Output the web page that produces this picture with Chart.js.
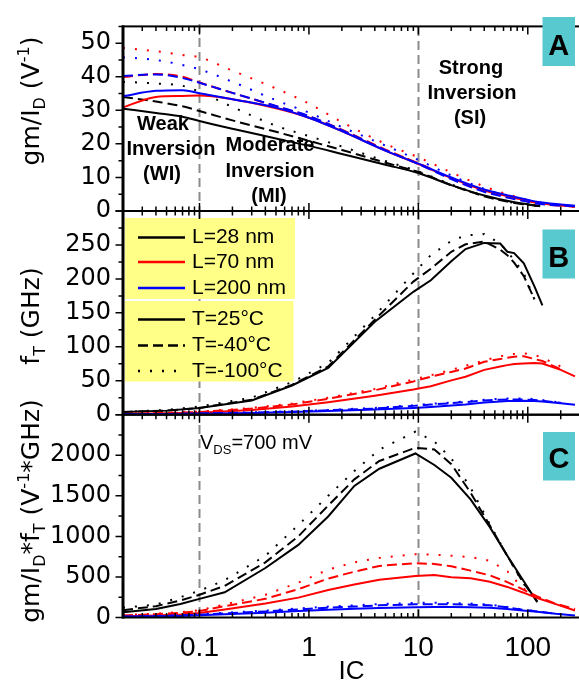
<!DOCTYPE html>
<html lang="en">
<head>
<meta charset="UTF-8">
<title>gm/ID, fT and gm/ID*fT versus IC</title>
<script src="https://cdn.jsdelivr.net/npm/chart.js"></script>
<style>
    body { margin: 0; background: #fff; }
    .figure { position: relative; width: 579px; height: 685px; overflow: hidden; background: #fff; }
    .figure canvas { position: absolute; left: 0; top: 0; }
</style>
</head>
<body>
<div class="figure">
    <canvas id="chartA" width="580" height="685"></canvas>
    <canvas id="chartB" width="580" height="685"></canvas>
    <canvas id="chartC" width="580" height="685"></canvas>
</div>
<script>
// ---- data (IC grid per panel, one array per curve) ----
const xTicks = [0.1, 1, 10, 100];
const xTickLabels = ['0.1', '1', '10', '100'];

// panel A: gm/ID (1/V)
const icA = [0.02, 0.04, 0.07, 0.1, 0.2, 0.5, 1, 2, 5, 10, 20, 40, 70, 130, 270];
const gmA_28_25   = [30.5, 29.2, 28.1, 26.8, 24.5, 21.6, 19.4, 17.0, 13.8, 11.3, 7.7, 4.6, 2.8, 1.4, null];
const gmA_28_m40  = [34.0, 32.6, 31.2, 29.8, 27.0, 23.6, 20.9, 18.2, 14.4, 11.6, 7.7, 4.4, 2.6, 1.4, null];
const gmA_28_m100 = [38.5, 38.0, 37.3, 35.5, 31.0, 25.4, 22.3, 19.2, 14.9, 11.8, 7.9, 4.5, 2.6, 1.4, null];
const gmA_70_25   = [30.9, 34.0, 34.3, 34.4, 33.3, 30.6, 27.8, 23.8, 18.0, 14.0, 9.8, 6.1, 4.2, 2.3, 1.3];
const gmA_70_m40  = [39.9, 40.8, 40.0, 38.3, 35.2, 31.2, 28.2, 24.2, 18.3, 14.2, 9.7, 5.9, 4.0, 2.2, 1.3];
const gmA_70_m100 = [48.6, 47.6, 46.5, 45.8, 41.8, 36.5, 32.0, 26.5, 20.0, 16.0, 11.5, 7.3, 4.7, 2.5, 1.3];
const gmA_200_25   = [34.2, 35.8, 36.0, 35.1, 33.3, 30.8, 27.8, 23.8, 18.0, 14.1, 10.0, 6.4, 4.5, 2.6, 1.6];
const gmA_200_m40  = [40.2, 40.7, 39.6, 38.2, 35.2, 31.3, 28.3, 24.1, 18.1, 14.0, 9.5, 5.7, 3.8, 2.1, 1.4];
const gmA_200_m100 = [45.8, 45.0, 43.5, 42.2, 38.5, 33.0, 29.3, 25.0, 19.5, 15.2, 10.6, 6.6, 4.4, 2.5, 1.5];

// panel B: fT (GHz)
const icB = [0.02, 0.05, 0.1, 0.3, 0.7, 1.5, 4, 9, 13, 20, 27, 40, 56, 65, 75, 92, 115, 136, 200, 270];
const ftB_28_25   = [4, 6, 10, 21, 43, 69, 137, 181, 198, 226, 244, 253, 252, 240, 238, 223, 189, 161, null, null];
const ftB_28_m40  = [4, 6, 10, 22, 44, 71, 140, 196, 215, 240, 251, 255, 243, 235, 224, 204, 170, null, null, null];
const ftB_28_m100 = [4, 7, 12, 25, 48, 76, 146, 208, 235, 256, 264, 266, 252, 240, 228, 208, 170, null, null, null];
const ftB_70_25   = [1, 2, 3, 7, 12, 18.5, 28, 37, 42, 50.5, 56, 66, 71, 73, 74.6, 75.5, 76, 75.5, 66, 56.5];
const ftB_70_m40  = [1, 2.5, 4, 9, 15, 23.5, 36, 49, 56, 63, 68, 78, 82, 84, 85.5, 86, 82, 79, 67, null];
const ftB_70_m100 = [1.5, 3, 4.5, 10, 16.5, 25, 38, 52, 58, 66, 72, 80, 86, 88, 89.5, 90.5, 88, 84, 71, null];
const ftB_200_25   = [0.5, 1, 1.5, 2.5, 4, 5.5, 7.5, 10, 11.5, 13.5, 15, 18, 19.5, 20, 20.3, 20.6, 20.3, 19.5, 17, 14.7];
const ftB_200_m40  = [0.5, 1, 2, 3, 4.5, 6.5, 9, 13, 15, 17, 18.5, 21, 22, 22.3, 22.5, 22.3, 21.5, 20.5, 17.5, null];
const ftB_200_m100 = [0.5, 1, 2, 3.5, 5, 7, 10, 14, 16, 18, 19.5, 22, 23.5, 24, 24, 24, 23, 21.5, 18, null];

// panel C: gm/ID * fT (GHz/V)
const icC = [0.02, 0.04, 0.067, 0.1, 0.17, 0.4, 0.8, 1.5, 2.6, 4.4, 9.4, 14, 20, 30, 45, 65, 90, 122, 180, 270];
const fomC_28_25   = [65, 106, 167, 230, 311, 610, 895, 1245, 1622, 1834, 2022, 1880, 1723, 1456, 1114, 762, 465, 188, null, null];
const fomC_28_m40  = [90, 140, 210, 280, 390, 680, 1000, 1380, 1703, 1930, 2092, 2071, 1890, 1539, 1133, 760, 438, 200, null, null];
const fomC_28_m100 = [120, 160, 250, 330, 460, 760, 1140, 1500, 1805, 2070, 2290, 2170, 1960, 1600, 1150, 760, 430, 190, null, null];
const fomC_70_25   = [16, 24, 36, 56, 98, 173, 245, 339, 406, 465, 511, 524, 497, 483, 440, 377, 309, 240, 165, 86];
const fomC_70_m40  = [25, 40, 58, 80, 140, 230, 350, 480, 565, 636, 670, 660, 632, 578, 519, 437, 347, 260, 170, 105];
const fomC_70_m100 = [30, 48, 66, 90, 160, 280, 430, 590, 680, 735, 780, 775, 762, 745, 700, 570, 365, 240, null, null];
const fomC_200_25   = [10, 14, 20, 28, 40, 60, 80, 95, 108, 117, 127, 128, 128, 127, 120, 105, 85, 70, 45, 25];
const fomC_200_m40  = [12, 18, 25, 35, 50, 75, 100, 120, 135, 150, 163, 165, 163, 158, 150, 125, 95, 75, 45, null];
const fomC_200_m100 = [14, 20, 28, 40, 58, 85, 112, 135, 150, 165, 180, 182, 178, 172, 160, 130, 98, 75, null, null];

const legendL = ['L=28 nm', 'L=70 nm', 'L=200 nm'];
const legendT = ['T=25°C', 'T=-40°C', 'T=-100°C'];

// ---- styling ----
const BLACK = '#000000', RED = '#ff0000', BLUE = '#0000ff';
const DASHES = [[], [10, 5], [2, 10]];
const tickFont = '"DejaVu Sans", sans-serif';
const textFont = '"Liberation Sans", Arial, sans-serif';

function curve(ic, vals, color, dash, order, smooth) {
    return {
        data: ic.map((x, i) => ({ x: x, y: vals[i] })),
        borderColor: color,
        borderDash: dash,
        borderWidth: 2,
        pointRadius: 0,
        fill: false,
        order: order,
        cubicInterpolationMode: smooth ? 'monotone' : 'default',
        tension: 0
    };
}

function panelSets(ic, rows, smooth) {
    // rows: [black x3, red x3, blue x3]
    const colors = [BLACK, RED, BLUE];
    const out = [];
    rows.forEach((r, k) => {
        const c = Math.floor(k / 3), t = k % 3;
        out.push(curve(ic, r, colors[c], DASHES[t], 3 - c, smooth));
    });
    return out;
}

// text with sub/superscripts; parts = [text, 0 normal | 1 sub | 2 sup]
function richText(ctx, parts, x, y, size, family, center) {
    const small = Math.round(size * 0.65);
    let w = 0;
    parts.forEach(p => {
        ctx.font = (p[1] ? small : size) + 'px ' + family;
        w += ctx.measureText(p[0]).width;
    });
    let cx = center ? x - w / 2 : x;
    parts.forEach(p => {
        ctx.font = (p[1] ? small : size) + 'px ' + family;
        const dy = p[1] === 1 ? size * 0.25 : (p[1] === 2 ? -size * 0.42 : 0);
        ctx.fillText(p[0], cx, y + dy);
        cx += ctx.measureText(p[0]).width;
    });
}

function letterBox(ctx, ch, x, y, w, h, base) {
    ctx.fillStyle = '#57c9cf';
    ctx.fillRect(x, y, w, h);
    ctx.fillStyle = '#000';
    ctx.font = 'bold 29px ' + textFont;
    ctx.textAlign = 'center';
    ctx.fillText(ch, x + w / 2, base);
    ctx.textAlign = 'left';
}

function yTitle(ctx, parts, cy) {
    ctx.save();
    ctx.translate(39, cy);
    ctx.rotate(-Math.PI / 2);
    ctx.fillStyle = '#000';
    ctx.textBaseline = 'alphabetic';
    richText(ctx, parts, 0, 0, 25, tickFont, true);
    ctx.restore();
}

// frame, inward x ticks, outward y ticks, grey region markers
const frame = {
    id: 'frame',
    beforeDatasetsDraw(chart, args, opts) {
        const ctx = chart.ctx, x = chart.scales.x, a = chart.chartArea;
        ctx.save();
        ctx.strokeStyle = '#8c8c8c';
        ctx.lineWidth = 2;
        ctx.setLineDash([9, 5]);
        [0.1, 10].forEach((v, i) => {
            const px = Math.round(x.getPixelForValue(v)) + 0.5;
            ctx.beginPath();
            ctx.moveTo(px, opts.guideTop[i]);
            ctx.lineTo(px, a.bottom);
            ctx.stroke();
        });
        ctx.restore();
    },
    afterDraw(chart, args, opts) {
        const ctx = chart.ctx, x = chart.scales.x, y = chart.scales.y, a = chart.chartArea;
        ctx.save();
        ctx.strokeStyle = '#000';
        ctx.lineWidth = 1.5;
        ctx.beginPath();
        for (let e = -2; e <= 2; e++) {
            for (let m = 1; m <= 9; m++) {
                const v = m * Math.pow(10, e);
                if (v < 0.02 || v > 300) continue;
                const px = x.getPixelForValue(v), len = m === 1 ? 8 : 4.5;
                ctx.moveTo(px, a.bottom); ctx.lineTo(px, a.bottom - len);
                ctx.moveTo(px, a.top); ctx.lineTo(px, a.top + len);
            }
        }
        for (let v = 0; v <= y.max + 1e-9; v += opts.minor) {
            const py = y.getPixelForValue(v);
            const len = Math.abs(v / opts.major - Math.round(v / opts.major)) < 1e-6 ? 7.5 : 4.5;
            ctx.moveTo(a.left, py); ctx.lineTo(a.left - len, py);
        }
        ctx.stroke();
        ctx.lineWidth = 2;
        ctx.strokeRect(a.left, a.top, a.right - a.left, a.bottom - a.top);
        ctx.lineWidth = 3;
        ctx.beginPath();
        ctx.moveTo(a.left, a.top - 1); ctx.lineTo(a.left, a.bottom + 1);
        ctx.stroke();
        ctx.restore();
    }
};

const decoA = {
    id: 'decoA',
    afterDraw(chart) {
        const ctx = chart.ctx;
        ctx.save();
        ctx.fillStyle = '#000';
        ctx.textAlign = 'center';
        ctx.font = 'bold 20px ' + textFont;
        [['Weak', 163, 130], ['Inversion', 171, 155], ['(WI)', 162, 180],
         ['Moderate', 270, 150.5], ['Inversion', 270, 176.5], ['(MI)', 269, 202],
         ['Strong', 471, 73.5], ['Inversion', 472, 98.5], ['(SI)', 470, 123.5]]
            .forEach(t => ctx.fillText(t[0], t[1], t[2]));
        letterBox(ctx, 'A', 542.5, 17, 32.5, 49, 54.5);
        yTitle(ctx, [['gm/I', 0], ['D', 1], [' (V', 0], ['-1', 2], [')', 0]], 101);
        ctx.restore();
    }
};

const decoB = {
    id: 'decoB',
    afterDatasetsDraw(chart) {
        const ctx = chart.ctx;
        ctx.save();
        ctx.fillStyle = '#ffff88';
        ctx.fillRect(125, 218, 170, 81);
        ctx.fillRect(125, 301, 168.5, 80.5);
        const rowsY = [237.5, 262, 288, 319.5, 345.5, 371];
        const colors = [BLACK, RED, BLUE];
        ctx.lineWidth = 2.5;
        ctx.font = '21px ' + textFont;
        ctx.textBaseline = 'middle';
        rowsY.forEach((ry, i) => {
            const isL = i < 3;
            ctx.strokeStyle = isL ? colors[i] : BLACK;
            ctx.setLineDash(isL ? [] : DASHES[i - 3]);
            ctx.beginPath();
            ctx.moveTo(138, ry); ctx.lineTo(185, ry);
            ctx.stroke();
            ctx.fillStyle = '#000';
            ctx.fillText(isL ? legendL[i] : legendT[i - 3], 192, ry);
        });
        ctx.restore();
    },
    afterDraw(chart) {
        const ctx = chart.ctx;
        ctx.save();
        letterBox(ctx, 'B', 542.5, 229.5, 32.5, 49, 266.5);
        yTitle(ctx, [['f', 0], ['T', 1], [' (GHz)', 0]], 316);
        ctx.restore();
    }
};

const decoC = {
    id: 'decoC',
    afterDraw(chart) {
        const ctx = chart.ctx;
        ctx.save();
        ctx.fillStyle = '#000';
        richText(ctx, [['V', 0], ['DS', 1], ['=700 mV', 0]], 200, 449, 20, textFont, false);
        letterBox(ctx, 'C', 543, 432, 32, 48.5, 467.5);
        yTitle(ctx, [['gm/I', 0], ['D', 1], ['*f', 0], ['T', 1], [' (V', 0], ['-1', 2], ['*GHz)', 0]], 511);
        ctx.restore();
    }
};

function yAxis(max, step) {
    return {
        min: 0, max: max,
        afterFit: s => { s.width = 123; },
        grid: { display: false, drawTicks: false },
        border: { display: false },
        ticks: {
            stepSize: step, includeBounds: false, padding: 12, color: '#000',
            font: { family: tickFont, size: 24 },
            callback: v => (v >= max - 1e-9 ? '' : String(v))
        }
    };
}

function makeChart(id, datasets, yScale, padding, showX, extra, frameOpts) {
    const xScale = {
        type: 'logarithmic', min: 0.02, max: 300, display: showX,
        afterBuildTicks: s => { s.ticks = xTicks.map(v => ({ value: v })); },
        afterFit: s => { s.height = showX ? 67.5 : 0; },
        grid: { display: false, drawTicks: false },
        border: { display: false },
        ticks: {
            autoSkip: false, maxRotation: 0, padding: 14, color: '#000',
            font: { family: textFont, size: 28 },
            callback: (v, i) => xTickLabels[i]
        },
        title: {
            display: true, text: 'IC', color: '#000', padding: 0,
            font: { family: textFont, size: 26, lineHeight: 1 }
        }
    };
    return new Chart(document.getElementById(id), {
        type: 'line',
        data: { datasets: datasets },
        options: {
            responsive: false,
            animation: false,
            devicePixelRatio: 1,
            layout: { padding: padding, autoPadding: false },
            scales: { x: xScale, y: yScale },
            plugins: { legend: { display: false }, tooltip: { enabled: false }, frame: frameOpts }
        },
        plugins: [frame, extra]
    });
}

makeChart('chartA',
    panelSets(icA, [gmA_28_25, gmA_28_m40, gmA_28_m100, gmA_70_25, gmA_70_m40, gmA_70_m100,
                    gmA_200_25, gmA_200_m40, gmA_200_m100], true),
    yAxis(55, 10), { top: 7, bottom: 474, left: 0, right: 0 }, false, decoA,
    { guideTop: [24, 27], minor: 5, major: 10 });

makeChart('chartB',
    panelSets(icB, [ftB_28_25, ftB_28_m40, ftB_28_m100, ftB_70_25, ftB_70_m40, ftB_70_m100,
                    ftB_200_25, ftB_200_m40, ftB_200_m100], false),
    yAxis(300, 50), { top: 211, bottom: 270.3, left: 0, right: 0 }, false, decoB,
    { guideTop: [211, 211], minor: 25, major: 50 });

makeChart('chartC',
    panelSets(icC, [fomC_28_25, fomC_28_m40, fomC_28_m100, fomC_70_25, fomC_70_m40, fomC_70_m100,
                    fomC_200_25, fomC_200_m40, fomC_200_m100], false),
    yAxis(2500, 500), { top: 414.7, bottom: 0, left: 0, right: 0 }, true, decoC,
    { guideTop: [425, 427], minor: 250, major: 500 });
</script>
</body>
</html>
